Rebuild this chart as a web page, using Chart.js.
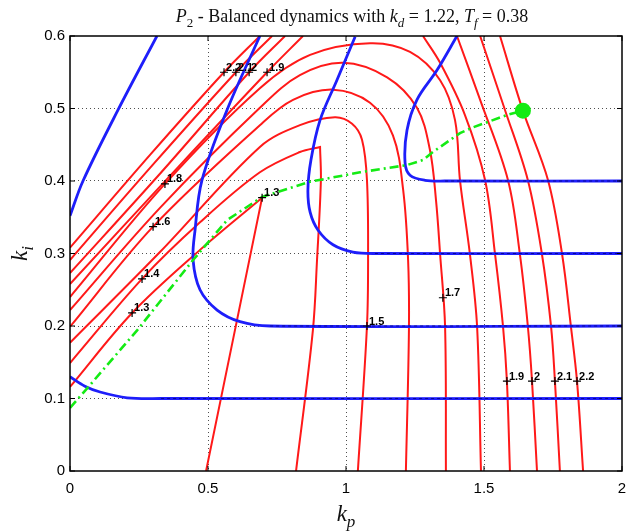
<!DOCTYPE html>
<html><head><meta charset="utf-8">
<script src="https://cdn.jsdelivr.net/npm/chart.js@4"></script>
<style>html,body{margin:0;padding:0;background:#fff;}#wrap{width:627px;height:531px;position:relative;}</style>
</head><body><div id="wrap"><canvas id="c" width="627" height="531"></canvas></div>
<script>
// ---- axis ticks ----
const xTicks = [0, 0.5, 1, 1.5, 2];
const yTicks = [0, 0.1, 0.2, 0.3, 0.4, 0.5, 0.6];

// ---- red contour levels (kp, ki) ----
const red13 = [[0,0.116],[0.225,0.218],[0.471,0.305],[0.696,0.377],[0.696,0.377],[0.493,0]];
const red14 = [[0,0.149],[0.261,0.265],[0.471,0.343],[0.688,0.412],[0.833,0.440],[0.906,0.447],[0.906,0.447],[0.909,0.401],[0.895,0.291],[0.880,0.194],[0.819,0]];
const red15 = [[0,0.177],[0.326,0.302],[0.688,0.447],[0.833,0.477],[0.960,0.488],[1.022,0.479],[1.058,0.457],[1.076,0.401],[1.080,0.291],[1.076,0.2],[1.043,0]];
const red16 = [[0,0.199],[0.301,0.337],[0.688,0.477],[0.808,0.512],[0.953,0.526],[1.087,0.508],[1.170,0.463],[1.207,0.388],[1.225,0.291],[1.228,0.194],[1.217,0]];
const red17 = [[0,0.222],[0.326,0.363],[0.688,0.501],[0.833,0.546],[0.989,0.563],[1.149,0.543],[1.257,0.501],[1.304,0.443],[1.326,0.374],[1.341,0.299],[1.359,0.199],[1.362,0]];
const red18 = [[0,0.240],[0.344,0.396],[0.688,0.528],[0.870,0.574],[1.087,0.590],[1.232,0.578],[1.341,0.539],[1.395,0.484],[1.413,0.401],[1.449,0.299],[1.475,0.199],[1.489,0]];
const red19a = [[0,0.258],[0.362,0.407],[0.714,0.550],[0.844,0.6]];
const red19b = [[1.279,0.6],[1.341,0.563],[1.431,0.491],[1.504,0.401],[1.540,0.299],[1.569,0.199],[1.583,0.124],[1.594,0]];
const red20a = [[0,0.273],[0.326,0.410],[0.649,0.550],[0.779,0.6]];
const red20b = [[1.402,0.6],[1.486,0.512],[1.587,0.401],[1.630,0.299],[1.659,0.199],[1.674,0.124],[1.692,0]];
const red21a = [[0,0.291],[0.290,0.418],[0.601,0.550],[0.732,0.6]];
const red21b = [[1.486,0.6],[1.576,0.498],[1.659,0.401],[1.710,0.299],[1.743,0.199],[1.757,0.124],[1.775,0]];
const red22a = [[0,0.308],[0.290,0.436],[0.558,0.550],[0.688,0.6]];
const red22b = [[1.558,0.6],[1.641,0.497],[1.732,0.401],[1.783,0.299],[1.815,0.199],[1.837,0.124],[1.859,0]];

// ---- blue contours (kp, ki) ----
const blue01 = [[0,0.130],[0.054,0.117],[0.109,0.109],[0.207,0.101],[0.33,0.1],[2,0.1]];
const blue02 = [[0.688,0.6],[0.569,0.498],[0.478,0.401],[0.453,0.332],[0.446,0.291],[0.471,0.250],[0.533,0.222],[0.616,0.206],[0.725,0.2],[2,0.2]];
const blue03 = [[1.033,0.599],[0.967,0.539],[0.906,0.484],[0.873,0.429],[0.862,0.388],[0.870,0.357],[0.899,0.332],[0.953,0.312],[1.025,0.302],[1.105,0.3],[2,0.3]];
const blue04 = [[1.402,0.6],[1.330,0.553],[1.257,0.512],[1.221,0.470],[1.214,0.425],[1.232,0.408],[1.286,0.401],[1.359,0.4],[2,0.4]];
const blueTop = [[0,0.352],[0.047,0.4],[0.174,0.498],[0.315,0.6]];

// ---- green optimisation path ----
const pathKp = [0, 0.062, 0.243, 0.446, 0.569, 0.696, 0.870, 1.051, 1.221, 1.279, 1.315, 1.413, 1.460, 1.583, 1.641];
const pathKi = [0.087, 0.114, 0.194, 0.291, 0.346, 0.378, 0.399, 0.412, 0.422, 0.429, 0.440, 0.466, 0.474, 0.491, 0.497];
const optimum = [1.641, 0.497];

// ---- contour labels ----
const labelText = ['1.3','1.4','1.6','1.8','2.2','2.1','2','1.9','1.3','1.5','1.7','1.9','2','2.1','2.2'];
const labelKp = [0.225,0.261,0.301,0.344,0.558,0.601,0.649,0.714,0.696,1.076,1.351,1.583,1.674,1.757,1.837];
const labelKi = [0.218,0.265,0.337,0.396,0.550,0.550,0.550,0.550,0.377,0.200,0.239,0.124,0.124,0.124,0.124];

const RED = 'rgb(255,25,25)';
const BLUE = 'rgb(30,30,250)';
const NAVY = 'rgba(0,0,120,0.75)';
const GREEN = 'rgb(20,235,20)';
const toXY = a => a.map(p => ({x: p[0], y: p[1]}));

const redSets = [red13, red14, red15, red16, red17, red18, red19a, red19b, red20a, red20b, red21a, red21b, red22a, red22b];
const blueSets = [blue01, blue02, blue03, blue04, blueTop];
const blueFlat = [blue01, blue02, blue03, blue04].map(s => s.slice(-2));

const datasets = [];
redSets.forEach(s => datasets.push({data: toXY(s), showLine: true, borderColor: RED, borderWidth: 2, pointRadius: 0, tension: 0.35, clip: 0, order: 6}));
blueSets.forEach(s => datasets.push({data: toXY(s), showLine: true, borderColor: BLUE, borderWidth: 2.8, pointRadius: 0, tension: 0.35, clip: 0, order: 5}));
blueFlat.forEach(s => datasets.push({data: toXY(s), showLine: true, borderColor: NAVY, borderWidth: 1.2, borderDash: [3, 3], pointRadius: 0, tension: 0, clip: 0, order: 4}));
datasets.push({data: pathKp.map((v, i) => ({x: v, y: pathKi[i]})), showLine: true, borderColor: GREEN, borderWidth: 2.6, borderDash: [9, 4, 2, 4], pointRadius: 0, tension: 0, clip: 0, order: 3});
datasets.push({data: [{x: optimum[0], y: optimum[1]}], showLine: false, pointRadius: 8, pointBackgroundColor: GREEN, pointBorderColor: GREEN, pointBorderWidth: 0, clip: false, order: 2});
datasets.push({data: labelKp.map((v, i) => ({x: v, y: labelKi[i]})), showLine: false, pointStyle: 'cross', pointRadius: 4, pointBorderColor: '#000', pointBackgroundColor: '#000', pointBorderWidth: 1.2, clip: false, order: 1});

function drawRich(ctx, parts, x0, y, size, align) {
  let w = 0;
  const fontOf = p => (p.it ? 'italic ' : '') + Math.round(p.sub ? size * 0.72 : size) + 'px "Liberation Serif", "DejaVu Serif", serif';
  parts.forEach(p => { ctx.font = fontOf(p); p.w = ctx.measureText(p.t).width; w += p.w; });
  let x = align === 'center' ? x0 - w / 2 : x0;
  ctx.textAlign = 'left'; ctx.textBaseline = 'alphabetic';
  parts.forEach(p => { ctx.font = fontOf(p); ctx.fillText(p.t, x, p.sub ? y + size * 0.25 : y); x += p.w; });
}

const decor = {
  id: 'decor',
  afterDatasetsDraw(chart) {
    const {ctx, chartArea: a, scales: {x, y}} = chart;
    ctx.save();
    ctx.strokeStyle = '#000'; ctx.lineWidth = 1.5;
    ctx.strokeRect(a.left, a.top, a.right - a.left, a.bottom - a.top);
    ctx.lineWidth = 1;
    xTicks.forEach(v => { const px = x.getPixelForValue(v); ctx.beginPath(); ctx.moveTo(px, a.bottom); ctx.lineTo(px, a.bottom - 5); ctx.moveTo(px, a.top); ctx.lineTo(px, a.top + 5); ctx.stroke(); });
    yTicks.forEach(v => { const py = y.getPixelForValue(v); ctx.beginPath(); ctx.moveTo(a.left, py); ctx.lineTo(a.left + 5, py); ctx.moveTo(a.right, py); ctx.lineTo(a.right - 5, py); ctx.stroke(); });
    ctx.fillStyle = '#000'; ctx.font = 'bold 11px "Liberation Sans", Arial, sans-serif';
    ctx.textAlign = 'left'; ctx.textBaseline = 'bottom';
    labelText.forEach((t, i) => { ctx.fillText(t, x.getPixelForValue(labelKp[i]) + 2, y.getPixelForValue(labelKi[i]) + 1); });
    ctx.fillStyle = '#111';
    drawRich(ctx, [{t: 'P', it: true}, {t: '2', sub: true}, {t: ' - Balanced dynamics with '}, {t: 'k', it: true}, {t: 'd', it: true, sub: true}, {t: ' = 1.22, '}, {t: 'T', it: true}, {t: 'f', it: true, sub: true}, {t: ' = 0.38'}], 352, 22, 18, 'center');
    drawRich(ctx, [{t: 'k', it: true}, {t: 'p', it: true, sub: true}], (a.left + a.right) / 2, 521, 23, 'center');
    ctx.save(); ctx.translate(27, (a.top + a.bottom) / 2); ctx.rotate(-Math.PI / 2);
    drawRich(ctx, [{t: 'k', it: true}, {t: 'i', it: true, sub: true}], 0, 0, 23, 'center');
    ctx.restore();
    ctx.restore();
  }
};

const gridColor = edgeVals => ctx => (edgeVals.includes(ctx.tick && ctx.tick.value) ? 'rgba(0,0,0,0)' : 'rgba(60,60,60,0.9)');
const fmt = v => String(Math.round(v * 10) / 10);

new Chart(document.getElementById('c'), {
  type: 'scatter',
  data: {datasets},
  options: {
    responsive: false, animation: false, devicePixelRatio: 1,
    layout: {autoPadding: false, padding: {top: 36, right: 5, left: 0, bottom: 0}},
    plugins: {legend: {display: false}, tooltip: {enabled: false}, title: {display: false}},
    scales: {
      x: {
        type: 'linear', min: 0, max: 2,
        afterBuildTicks: s => { s.ticks = xTicks.map(v => ({value: v})); },
        afterFit: s => { s.height = 60; s.paddingLeft = 0; s.paddingRight = 0; },
        ticks: {color: '#000', padding: 9, callback: fmt, font: {family: '"Liberation Sans", Arial, sans-serif', size: 15}, maxRotation: 0, autoSkip: false},
        grid: {color: gridColor([0, 2]), lineWidth: 1, drawTicks: false},
        border: {display: false, dash: [1, 3]}
      },
      y: {
        type: 'linear', min: 0, max: 0.6,
        afterBuildTicks: s => { s.ticks = yTicks.map(v => ({value: v})); },
        afterFit: s => { s.width = 70; s.paddingTop = 0; s.paddingBottom = 0; },
        ticks: {color: '#000', padding: 5, callback: fmt, font: {family: '"Liberation Sans", Arial, sans-serif', size: 15}, autoSkip: false},
        grid: {color: gridColor([0, 0.6]), lineWidth: 1, drawTicks: false},
        border: {display: false, dash: [1, 3]}
      }
    }
  },
  plugins: [decor]
});
</script></body></html>
